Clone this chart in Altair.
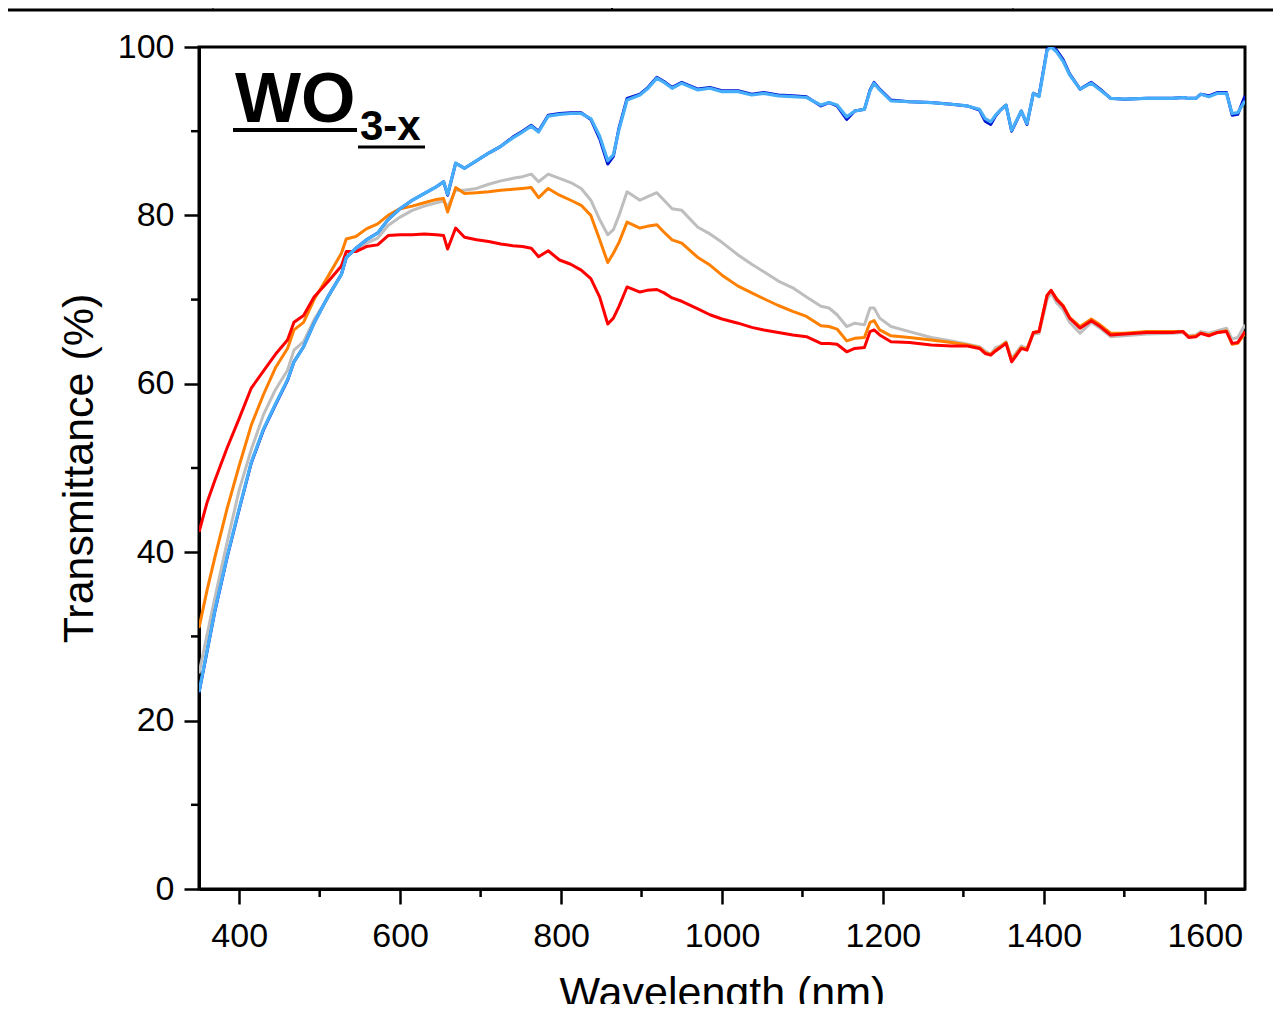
import altair as alt
import pandas as pd

# ---------------- data ----------------
wavelength = [
    350, 360, 370, 385, 400, 415, 430, 445, 460, 468,
    480, 493, 510, 527, 533, 545, 558, 572, 585, 600,
    615, 630, 645, 654, 659, 669, 680, 695, 710, 725,
    740, 752, 763, 772, 784, 798, 812, 825, 837, 848,
    858, 865, 872, 882, 898, 907, 919, 928, 938, 950,
    970, 985, 1000, 1020, 1037, 1052, 1070, 1088, 1105, 1123,
    1133, 1143, 1155, 1165, 1177, 1184, 1189, 1196, 1210, 1233,
    1260, 1285, 1305, 1320, 1327, 1334, 1340, 1346, 1353, 1360,
    1372, 1379, 1387, 1394, 1404, 1409, 1416, 1424, 1432, 1445,
    1459, 1470, 1483, 1500, 1528, 1560, 1573, 1580, 1589, 1595,
    1605, 1616, 1627, 1634, 1641, 1650,
]

t_light_blue = [
    23.4, 28.3, 33.2, 39.5, 45.2, 50.7, 54.6, 57.6, 60.5, 62.6,
    64.4, 67.2, 70.3, 73.0, 75.0, 76.1, 77.1, 77.9, 79.5, 80.8,
    81.8, 82.6, 83.4, 84.0, 82.5, 86.2, 85.6, 86.5, 87.4, 88.2,
    89.2, 89.9, 90.6, 89.9, 91.8, 92.0, 92.1, 92.1, 91.5, 89.4,
    86.5, 87.2, 90.2, 93.7, 94.3, 95.0, 96.3, 95.8, 95.1, 95.7,
    94.9, 95.1, 94.7, 94.7, 94.3, 94.5, 94.2, 94.1, 94.0, 93.1,
    93.4, 93.1, 91.7, 92.4, 92.6, 94.8, 95.7, 94.9, 93.6, 93.5,
    93.4, 93.2, 93.0, 92.6, 91.5, 91.1, 91.9, 92.5, 93.1, 90.1,
    92.4, 90.9, 94.5, 94.1, 99.6, 100.0, 99.4, 98.3, 96.7, 95.0,
    95.7, 94.9, 93.9, 93.8, 93.9, 93.9, 94.0, 93.9, 93.9, 94.4,
    94.1, 94.5, 94.5, 92.1, 92.2, 93.6,
]

t_dark_blue = [
    23.3, 28.2, 33.1, 39.4, 45.1, 50.6, 54.5, 57.5, 60.4, 62.6,
    64.4, 67.2, 70.3, 73.0, 75.0, 76.1, 77.1, 77.9, 79.5, 80.8,
    81.8, 82.6, 83.4, 84.0, 82.4, 86.2, 85.6, 86.5, 87.4, 88.2,
    89.3, 90.0, 90.7, 90.0, 91.9, 92.1, 92.2, 92.2, 91.4, 89.1,
    86.1, 87.0, 90.4, 93.9, 94.4, 95.1, 96.4, 95.9, 95.2, 95.8,
    95.0, 95.2, 94.8, 94.8, 94.4, 94.6, 94.3, 94.2, 94.1, 93.0,
    93.4, 93.0, 91.4, 92.4, 92.6, 94.9, 95.8, 95.0, 93.7, 93.5,
    93.4, 93.2, 93.0, 92.5, 91.2, 90.8, 91.8, 92.5, 93.1, 90.0,
    92.4, 90.8, 94.5, 94.2, 99.7, 100.2, 99.6, 98.5, 96.8, 95.0,
    95.8, 95.0, 93.9, 93.8, 93.9, 93.9, 94.0, 93.9, 93.9, 94.4,
    94.2, 94.6, 94.6, 91.9, 92.0, 94.2,
]

t_gray = [
    25.6, 30.2, 34.7, 41.2, 47.4, 52.2, 56.3, 59.3, 61.6, 64.0,
    65.0, 67.6, 70.2, 73.0, 75.0, 76.0, 76.7, 77.3, 78.8, 79.8,
    80.6, 81.1, 81.5, 81.7, 81.0, 83.0, 83.0, 83.2, 83.7, 84.1,
    84.4, 84.6, 84.9, 84.0, 84.9, 84.4, 83.9, 83.2, 81.8, 79.5,
    77.7, 78.3, 80.0, 82.8, 81.8, 82.2, 82.7, 81.8, 80.8, 80.6,
    78.6, 77.8, 76.8, 75.3, 74.2, 73.3, 72.2, 71.4, 70.3, 69.2,
    69.0, 68.2, 66.8, 67.2, 67.0, 69.0, 69.0, 67.8, 66.8, 66.2,
    65.5, 65.1, 64.7, 64.4, 63.9, 63.5, 64.3, 64.5, 65.0, 63.0,
    64.5, 64.2, 65.9, 66.0, 70.0, 70.8, 69.6, 68.8, 67.3, 66.0,
    67.3, 66.6, 65.6, 65.7, 65.9, 66.0, 66.1, 65.7, 65.8, 66.2,
    66.0, 66.3, 66.6, 65.3, 65.5, 67.0,
]

t_orange = [
    31.0, 35.5, 39.5, 45.2, 50.3, 55.1, 58.7, 61.9, 64.2, 66.4,
    67.3, 70.0, 72.7, 75.5, 77.2, 77.5, 78.4, 79.0, 80.0, 80.8,
    81.1, 81.5, 81.9, 82.0, 80.4, 83.3, 82.6, 82.7, 82.8, 83.0,
    83.1, 83.2, 83.3, 82.1, 83.2, 82.4, 81.8, 81.2, 80.0, 77.1,
    74.4, 75.5, 76.8, 79.2, 78.5, 78.7, 78.9, 78.0, 77.1, 76.7,
    75.0, 74.1, 72.9, 71.6, 70.8, 70.1, 69.3, 68.6, 68.0, 66.9,
    66.8, 66.5, 65.1, 65.4, 65.5, 67.3, 67.5, 66.4, 65.7, 65.5,
    65.2, 64.9, 64.6, 64.3, 63.7, 63.5, 64.0, 64.4, 64.9, 62.8,
    64.3, 64.1, 66.1, 66.2, 70.5, 71.1, 70.1, 69.3, 67.9, 66.8,
    67.7, 67.0, 66.0, 66.0, 66.2, 66.2, 66.2, 65.6, 65.7, 66.0,
    65.8, 66.1, 66.3, 64.7, 64.8, 66.0,
]

t_red = [
    42.4, 45.9, 48.6, 52.4, 55.9, 59.5, 61.5, 63.5, 65.2, 67.3,
    68.1, 70.3, 72.1, 74.0, 75.7, 75.7, 76.3, 76.5, 77.6, 77.7,
    77.7, 77.8, 77.7, 77.6, 76.0, 78.5, 77.4, 77.1, 76.9, 76.6,
    76.4, 76.3, 76.1, 75.1, 75.8, 74.7, 74.2, 73.5, 72.5, 70.3,
    67.1, 67.8, 69.2, 71.5, 70.9, 71.1, 71.2, 70.8, 70.2, 69.8,
    68.9, 68.2, 67.7, 67.2, 66.7, 66.4, 66.1, 65.8, 65.6, 64.8,
    64.8, 64.7, 63.8, 64.2, 64.3, 66.2, 66.4, 65.8, 65.0, 64.9,
    64.6, 64.5, 64.5, 64.2, 63.6, 63.4, 63.9, 64.3, 64.8, 62.6,
    64.2, 64.0, 66.1, 66.2, 70.5, 71.1, 70.0, 69.2, 67.8, 66.6,
    67.5, 66.8, 65.8, 65.9, 66.1, 66.1, 66.2, 65.5, 65.6, 66.0,
    65.7, 66.1, 66.2, 64.8, 64.9, 66.2,
]

# drawing order: bottom to top
series_names = ["gray", "orange", "red", "dark blue", "light blue"]
series_values = [t_gray, t_orange, t_red, t_dark_blue, t_light_blue]
series_colors = ["#BEBEBE", "#FF8000", "#FF0000", "#0010D0", "#45ADFA"]
series_widths = [3, 3, 3, 3, 3.2]

x_major = [400, 600, 800, 1000, 1200, 1400, 1600]
x_minor = [500, 700, 900, 1100, 1300, 1500]
y_major = [0, 20, 40, 60, 80, 100]
y_minor = [10, 30, 50, 70, 90]

# ---------------- chart ----------------
W, H = 1046, 842
FONT = "Liberation Sans"

xscale = alt.Scale(domain=[350, 1650], nice=False, zero=False)
yscale = alt.Scale(domain=[0, 100], nice=False, zero=True)

xaxis = alt.Axis(values=x_major, title="Wavelength (nm)", format="d",
                 tickSize=15, tickWidth=2.5, labelPadding=15,
                 titlePadding=19, labelFlush=False)
yaxis = alt.Axis(values=y_major, title="Transmittance (%)", format="d",
                 tickSize=15, tickWidth=2.5, labelPadding=10,
                 titlePadding=16, labelFlush=False)

rows = []
for name, vals in zip(series_names, series_values):
    for w, t in zip(wavelength, vals):
        rows.append({"series": name, "wavelength": w, "T": t})
df = pd.DataFrame(rows)

layers = []
for name, color, sw in zip(series_names, series_colors, series_widths):
    layers.append(
        alt.Chart(df).transform_filter(alt.datum.series == name)
        .mark_line(color=color, strokeWidth=sw, clip=True, strokeJoin="round")
        .encode(x=alt.X("wavelength:Q", scale=xscale, axis=xaxis),
                y=alt.Y("T:Q", scale=yscale, axis=yaxis))
    )

# minor ticks
xminor_df = pd.DataFrame({"wavelength": x_minor})
layers.append(
    alt.Chart(xminor_df).mark_rule(color="black", strokeWidth=2.5)
    .encode(x=alt.X("wavelength:Q", scale=xscale, axis=xaxis),
            y=alt.value(H), y2=alt.value(H + 8))
)
yminor_df = pd.DataFrame({"T": y_minor})
layers.append(
    alt.Chart(yminor_df).mark_rule(color="black", strokeWidth=2.5)
    .encode(y=alt.Y("T:Q", scale=yscale, axis=yaxis),
            x=alt.value(-8), x2=alt.value(0))
)

# WO3-x label with underlines
layers.append(
    alt.Chart(pd.DataFrame({"t": ["WO"]})).mark_text(
        font=FONT, fontSize=70, fontWeight="bold", align="left",
        baseline="alphabetic", color="black")
    .encode(text="t:N", x=alt.value(36), y=alt.value(75))
)
layers.append(
    alt.Chart(pd.DataFrame({"t": ["3-x"]})).mark_text(
        font=FONT, fontSize=42, fontWeight="bold", align="left",
        baseline="alphabetic", color="black")
    .encode(text="t:N", x=alt.value(161), y=alt.value(93))
)
layers.append(
    alt.Chart(pd.DataFrame({"a": [0]})).mark_rule(color="black", strokeWidth=4)
    .encode(x=alt.value(34), x2=alt.value(158), y=alt.value(83))
)
layers.append(
    alt.Chart(pd.DataFrame({"a": [0]})).mark_rule(color="black", strokeWidth=3)
    .encode(x=alt.value(159), x2=alt.value(226), y=alt.value(100))
)

# partial frame of the panel above (decoration)
layers.append(
    alt.Chart(pd.DataFrame({"a": [0]})).mark_rule(color="black", strokeWidth=3)
    .encode(x=alt.value(-191), x2=alt.value(1076), y=alt.value(-37))
)
for px, sw in [(14, 1), (413, 2), (814, 1)]:
    layers.append(
        alt.Chart(pd.DataFrame({"a": [0]})).mark_rule(color="black", strokeWidth=sw)
        .encode(x=alt.value(px), y=alt.value(-47), y2=alt.value(-37))
    )

chart = (
    alt.layer(*layers)
    .properties(width=W, height=H,
                autosize=alt.AutoSizeParams(type="none"),
                padding={"left": 191, "top": 39, "right": 28, "bottom": 115})
    .configure_view(stroke="black", strokeWidth=3)
    .configure_axis(domainColor="black", domainWidth=3, tickColor="black",
                    grid=False, labelFont=FONT, labelFontSize=34,
                    labelColor="black", titleFont=FONT, titleFontSize=43,
                    titleFontWeight="normal", titleColor="black")
)

chart.save("out.html", embed_options={"renderer": "svg", "actions": False})
